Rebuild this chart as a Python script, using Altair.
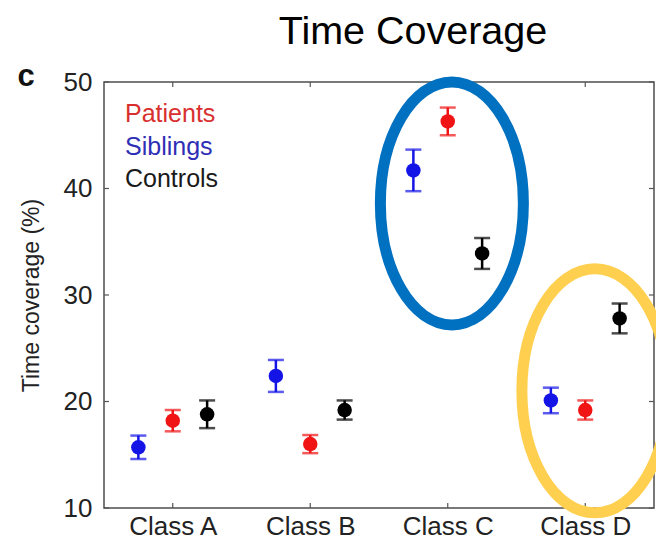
import json
import altair as alt
import pandas as pd

# ---------------- data ----------------
classes = ["Class A", "Class B", "Class C", "Class D"]
groups = ["Siblings", "Patients", "Controls"]          # left -> right inside each class
legend_order = ["Patients", "Siblings", "Controls"]

siblings_mean = [15.7, 22.4, 41.7, 20.1]
siblings_err = [1.1, 1.5, 1.95, 1.2]
patients_mean = [18.2, 16.0, 46.3, 19.2]
patients_err = [1.0, 0.85, 1.3, 0.9]
controls_mean = [18.8, 19.2, 33.9, 27.8]
controls_err = [1.3, 0.9, 1.45, 1.4]

y_ticks = [10, 20, 30, 40, 50]

chart_title = "Time Coverage"
y_title = "Time coverage (%)"
panel_letter = "c"

# highlight ellipses (centre in data units)
ellipse_cx = [3.03, 4.07]
ellipse_cy = [38.6, 21.0]

# ---------------- styles ----------------
point_colors = {"Patients": "#f01414", "Siblings": "#1414e6", "Controls": "#000000"}
text_colors = {"Patients": "#d8302f", "Siblings": "#2f2fb5", "Controls": "#1a1a1a"}
offsets = {"Siblings": -0.25, "Patients": 0.0, "Controls": 0.25}
ellipse_colors = ["#0070C0", "#FFCF50"]
ellipse_rx = [71.5, 73.0]   # px
ellipse_ry = [121.5, 122.0]  # px

W, H = 550, 426
FONT = "Liberation Sans"

means = {"Siblings": siblings_mean, "Patients": patients_mean, "Controls": controls_mean}
errs = {"Siblings": siblings_err, "Patients": patients_err, "Controls": controls_err}

rows = []
for g in groups:
    for i, c in enumerate(classes):
        m, e = means[g][i], errs[g][i]
        rows.append(dict(group=g, cls=c, pos=i + 1 + offsets[g], mean=m, lo=m - e, hi=m + e))
df = pd.DataFrame(rows)


def ellipse_path(rx, ry):
    a = rx / ry
    k = 0.5523
    return (f"M{-a},0 C{-a},{-k} {-k*a},-1 0,-1 C{k*a},-1 {a},{-k} {a},0 "
            f"C{a},{k} {k*a},1 0,1 C{-k*a},1 {-a},{k} {-a},0 Z")


ell_df = pd.DataFrame(dict(
    cx=ellipse_cx, cy=ellipse_cy,
    shape=[ellipse_path(rx, ry) for rx, ry in zip(ellipse_rx, ellipse_ry)],
    sz=[(2 * ry) ** 2 for ry in ellipse_ry],
    col=ellipse_colors,
))

legend_df = pd.DataFrame(dict(label=legend_order, row=list(range(len(legend_order)))))
legend_df["tcol"] = [text_colors[l] for l in legend_order]

xtick_df = pd.DataFrame(dict(v=list(range(1, len(classes) + 1))))
ytick_df = pd.DataFrame(dict(v=y_ticks))

# ---------------- scales / axes ----------------
xscale = alt.Scale(domain=[0.5, len(classes) + 0.5], nice=False, zero=False)
yscale = alt.Scale(domain=[y_ticks[0], y_ticks[-1]], nice=False, zero=False)

xaxis = alt.Axis(values=list(range(1, len(classes) + 1)),
                 labelExpr=f"{json.dumps(classes)}[datum.value - 1]",
                 title=None, ticks=False, tickSize=0, domain=False, grid=False,
                 labelFontSize=26, labelFont=FONT, labelColor="#222222",
                 labelPadding=5, labelFlush=False)
yaxis = alt.Axis(values=y_ticks, title=y_title, ticks=False, tickSize=0,
                 domain=False, grid=False, labelFontSize=26, labelFont=FONT,
                 labelColor="#222222", labelPadding=12, labelFlush=False,
                 titleFontSize=23, titleFont=FONT, titleFontWeight="normal",
                 titleColor="#222222", titlePadding=20)

color = alt.Color("group:N", scale=alt.Scale(domain=list(point_colors),
                                             range=list(point_colors.values())), legend=None)

base = alt.Chart(df)
X = alt.X("pos:Q", scale=xscale, axis=xaxis)

bars = base.mark_rule(strokeWidth=2.5).encode(
    x=X, y=alt.Y("lo:Q", scale=yscale, axis=yaxis), y2="hi:Q", color=color)
cap_lo = base.mark_tick(orient="horizontal", size=16, thickness=2.5).encode(
    x=X, y=alt.Y("lo:Q", scale=yscale, axis=yaxis), color=color)
cap_hi = base.mark_tick(orient="horizontal", size=16, thickness=2.5).encode(
    x=X, y=alt.Y("hi:Q", scale=yscale, axis=yaxis), color=color)
pts = base.mark_circle(size=210, opacity=1).encode(
    x=X, y=alt.Y("mean:Q", scale=yscale, axis=yaxis), color=color)

# inward tick marks on all four sides
tick_style = dict(color="#555555", strokeWidth=1.2)
yt = alt.Chart(ytick_df)
yt_left = yt.mark_rule(**tick_style).encode(
    y=alt.Y("v:Q", scale=yscale, axis=yaxis), x=alt.value(0), x2=alt.value(5))
yt_right = yt.mark_rule(**tick_style).encode(
    y=alt.Y("v:Q", scale=yscale, axis=yaxis), x=alt.value(W - 5), x2=alt.value(W))
xt = alt.Chart(xtick_df)
xt_bot = xt.mark_rule(**tick_style).encode(
    x=alt.X("v:Q", scale=xscale, axis=xaxis), y=alt.value(H - 5), y2=alt.value(H))
xt_top = xt.mark_rule(**tick_style).encode(
    x=alt.X("v:Q", scale=xscale, axis=xaxis), y=alt.value(0), y2=alt.value(5))

# legend as coloured text
legend = alt.Chart(legend_df).transform_calculate(
    ypix="40 + 32.5 * datum.row"
).mark_text(align="left", baseline="alphabetic", fontSize=25, font=FONT).encode(
    text="label:N", x=alt.value(21), y=alt.Y("ypix:Q", scale=None),
    fill=alt.Fill("tcol:N", scale=None))

# panel letter
letter = alt.Chart(pd.DataFrame(dict(t=[panel_letter]))).mark_text(
    align="center", baseline="alphabetic", fontSize=31, fontWeight="bold", font=FONT,
    color="#111111").encode(text="t:N", x=alt.value(-78), y=alt.value(4))

# slide title
title = alt.Chart(pd.DataFrame(dict(t=[chart_title]))).mark_text(
    align="center", baseline="alphabetic", fontSize=39.5, font=FONT,
    color="#000000").encode(text="t:N", x=alt.value(309), y=alt.value(-38))

# highlight ellipses
ellipses = alt.Chart(ell_df).mark_point(filled=False, opacity=1, strokeWidth=11).encode(
    x=alt.X("cx:Q", scale=xscale, axis=xaxis),
    y=alt.Y("cy:Q", scale=yscale, axis=yaxis),
    shape=alt.Shape("shape:N", scale=None),
    size=alt.Size("sz:Q", scale=None),
    stroke=alt.Stroke("col:N", scale=None),
)

chart = alt.layer(
    yt_left, yt_right, xt_bot, xt_top, bars, cap_lo, cap_hi, pts, legend, letter, title,
    ellipses
).properties(
    width=W, height=H,
    autosize=alt.AutoSizeParams(type="none"),
    padding={"left": 96, "top": 74, "right": 2, "bottom": 34},
).configure_view(stroke="#4d4d4d", strokeWidth=1.5)

chart.save("out.html", embed_options={"renderer": "svg", "actions": False})
